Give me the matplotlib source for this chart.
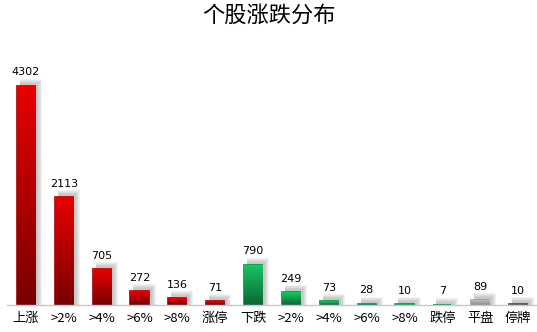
import numpy as np
import matplotlib.pyplot as plt
from matplotlib.colors import LinearSegmentedColormap
from matplotlib.patches import Rectangle

plt.rcParams['font.family'] = ['Noto Sans CJK SC', 'DejaVu Sans']

# data
categories = ['上涨', '>2%', '>4%', '>6%', '>8%', '涨停',
              '下跌', '>2%', '>4%', '>6%', '>8%', '跌停',
              '平盘', '停牌']
counts = [4302, 2113, 705, 272, 136, 71,
          790, 249, 73, 28, 10, 7,
          89, 10]
groups = ['red'] * 6 + ['green'] * 6 + ['gray', 'dark']

# top / bottom colours of each gradient
grad = {
    'red': ('#e80000', '#780000'),
    'green': ('#18c862', '#0a6633'),
    'gray': ('#bdbdbd', '#8a8a8a'),
    'dark': ('#6a6a6a', '#333333'),
}

fig = plt.figure(figsize=(5.37, 3.32), dpi=100)
ax = fig.add_axes([7 / 537, 27 / 332, 530 / 537, 255 / 332])

x = np.arange(len(categories))
width = 0.48
ymax = 5000
ax.set_xlim(-0.5, len(categories) - 0.5)
ax.set_ylim(0, ymax)

# pixel sizes in data units
px_x = len(categories) / 530
px_y = ymax / 255

# blurred shadow, shifted right and up
for xi, v in zip(x, counts):
    for k in range(5):
        grow = k * 1.0
        ax.add_patch(Rectangle((xi - width / 2 + 3 * px_x, 0),
                               width + grow * px_x,
                               v + (3 + grow) * px_y,
                               facecolor='#606060', edgecolor='none',
                               alpha=0.08, zorder=1))

bars = ax.bar(x, counts, width=width, zorder=2, linewidth=1.2)
for b, g in zip(bars, groups):
    top, bot = grad[g]
    cmap = LinearSegmentedColormap.from_list(g, [bot, top])
    b.set_facecolor(bot)
    b.set_edgecolor(cmap(0.35))
    x0, y0 = b.get_x(), b.get_y()
    im = ax.imshow(np.linspace(0, 1, 256).reshape(-1, 1), cmap=cmap,
                   extent=[x0, x0 + b.get_width(), y0, y0 + b.get_height()],
                   origin='lower', aspect='auto', zorder=3)
    im.set_clip_path(b)

ax.set_xlim(-0.5, len(categories) - 0.5)
ax.set_ylim(0, ymax)

for xi, v in zip(x, counts):
    ax.annotate(str(v), (xi, v), xytext=(0, 6), textcoords='offset points',
                ha='center', va='bottom', fontsize=8, color='#000000',
                family=['DejaVu Sans'])

ax.set_xticks(x)
ax.set_xticklabels(categories, fontsize=9.5)
ax.tick_params(axis='x', length=0, pad=5)
ax.set_yticks([])
for s in ['top', 'right', 'left']:
    ax.spines[s].set_visible(False)
ax.spines['bottom'].set_color('#c8c8c8')
ax.spines['bottom'].set_linewidth(1)
ax.spines['bottom'].set_zorder(4)

fig.text(0.5, 1 - 15 / 332, '个股涨跌分布', ha='center', va='center',
         fontsize=16)

fig.savefig('out.png', dpi=100)
